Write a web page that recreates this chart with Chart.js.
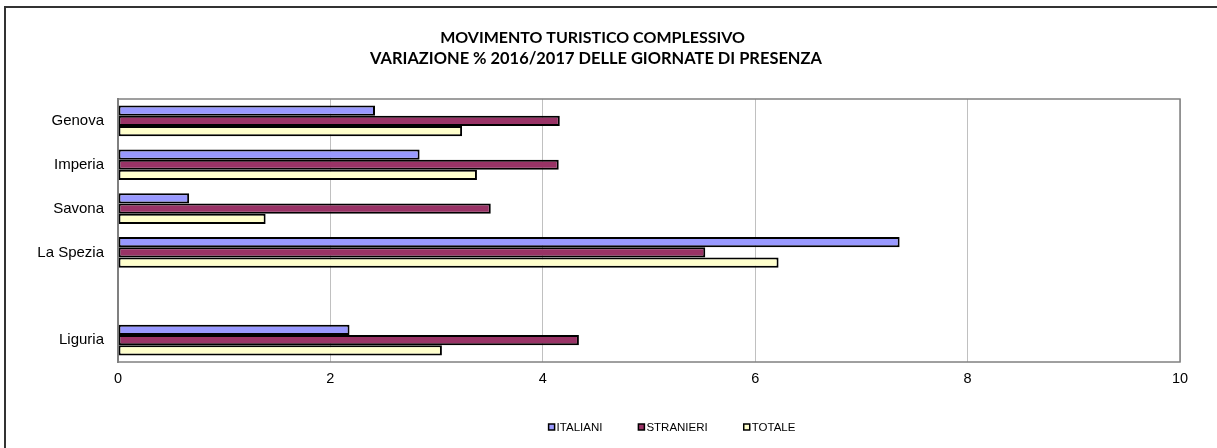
<!DOCTYPE html>
<html>
<head>
<meta charset="utf-8">
<script src="https://cdn.jsdelivr.net/npm/chart.js@4"></script>
<style>
html,body{margin:0;padding:0;background:#fff;}
#wrap{width:1217px;height:448px;position:relative;}
</style>
</head>
<body>
<div id="wrap"><canvas id="c" width="1217" height="448"></canvas></div>
<script>
const categories = ["Genova", "Imperia", "Savona", "La Spezia", "", "Liguria"];
const italiani  = [2.42, 2.84, 0.67, 7.36, null, 2.18];
const stranieri = [4.16, 4.15, 3.51, 5.53, null, 4.34];
const totale    = [3.24, 3.38, 1.39, 6.22, null, 3.05];
const seriesNames = ["ITALIANI", "STRANIERI", "TOTALE"];
const xTicks = [0, 2, 4, 6, 8, 10];
const titleLines = ["MOVIMENTO TURISTICO COMPLESSIVO", "VARIAZIONE % 2016/2017 DELLE GIORNATE DI PRESENZA"];

const colors = ["#9999FF", "#993366", "#FFFFCC"];
const FONT = "'Liberation Sans', Arial, sans-serif";

function fitText(ctx, text, family, targetW) {
  ctx.font = "bold 20px " + family;
  const w = ctx.measureText(text).width;
  const size = 20 * targetW / w;
  ctx.font = "bold " + size.toFixed(2) + "px " + family;
}

const decor = {
  id: 'decor',
  afterDraw(chart) {
    const ctx = chart.ctx;
    ctx.save();
    ctx.strokeStyle = "#333";
    ctx.lineWidth = 2;
    ctx.beginPath();
    ctx.moveTo(5, 460);
    ctx.lineTo(5, 7);
    ctx.lineTo(1230, 7);
    ctx.stroke();
    ctx.fillStyle = "#000";
    ctx.textAlign = "center";
    ctx.textBaseline = "middle";
    fitText(ctx, titleLines[0], "Lato, 'Open Sans', sans-serif", 305);
    ctx.fillText(titleLines[0], 592.5, 38);
    fitText(ctx, titleLines[1], "Lato, 'Open Sans', sans-serif", 452);
    ctx.fillText(titleLines[1], 596, 59);
    ctx.font = "11.5px " + FONT;
    ctx.textAlign = "left";
    const items = chart.data.datasets.map(d => ({label: d.label, color: d.backgroundColor}));
    const box = 6, gap = 2, spacing = 36;
    let total = 0;
    items.forEach((it, i) => { total += box + gap + ctx.measureText(it.label).width + (i < items.length - 1 ? spacing : 0); });
    let x = 672 - total / 2;
    const y = 427;
    items.forEach(it => {
      ctx.fillStyle = it.color;
      ctx.fillRect(x, y - box / 2, box, box);
      ctx.strokeStyle = "#000";
      ctx.lineWidth = 1.5;
      ctx.strokeRect(x, y - box / 2, box, box);
      ctx.fillStyle = "#000";
      ctx.fillText(it.label, x + box + gap, y + 0.5);
      x += box + gap + ctx.measureText(it.label).width + spacing;
    });
    const a = chart.chartArea;
    ctx.strokeStyle = "#808080";
    ctx.lineWidth = 1.5;
    ctx.strokeRect(a.left, a.top, a.right - a.left, a.bottom - a.top);
    ctx.restore();
  }
};

new Chart(document.getElementById('c'), {
  type: 'bar',
  data: {
    labels: categories,
    datasets: [
      {label: seriesNames[0], data: italiani,  backgroundColor: colors[0]},
      {label: seriesNames[1], data: stranieri, backgroundColor: colors[1]},
      {label: seriesNames[2], data: totale,    backgroundColor: colors[2]}
    ].map(d => Object.assign(d, {borderColor: "#000", borderWidth: 2, borderSkipped: false, categoryPercentage: 0.7, barPercentage: 1.0}))
  },
  options: {
    indexAxis: 'y',
    responsive: false,
    animation: false,
    layout: {padding: {top: 99, right: 37, left: 0, bottom: 0}},
    plugins: {legend: {display: false}, title: {display: false}, tooltip: {enabled: false}},
    scales: {
      x: {
        min: 0, max: 10,
        afterBuildTicks(s) { s.ticks = xTicks.map(v => ({value: v})); },
        afterFit(s) { s.height = 86; },
        grid: {color: "#c0c0c0", lineWidth: 1, drawTicks: false, tickLength: 0},
        border: {display: false},
        ticks: {padding: 8, color: "#000", font: {family: FONT, size: 14.5}}
      },
      y: {
        afterFit(s) { s.width = 118; },
        grid: {display: false, drawTicks: false, tickLength: 0},
        border: {display: true, color: "#808080", width: 2},
        ticks: {padding: 14, color: "#000", font: {family: FONT, size: 15}}
      }
    }
  },
  plugins: [decor]
});
</script>
</body>
</html>
